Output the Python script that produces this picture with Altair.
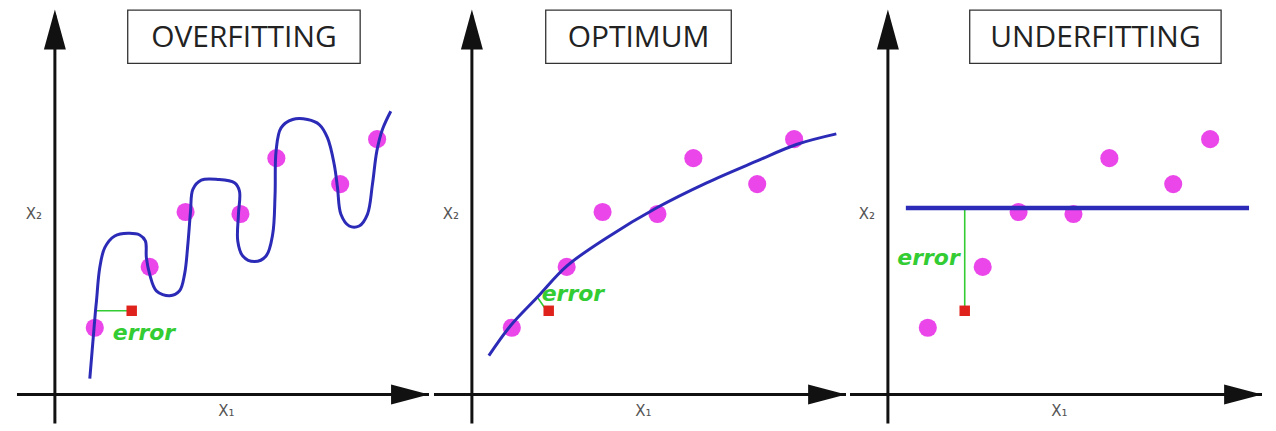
import altair as alt
import pandas as pd

# ---------------- data (units: position along X1 / X2 from the origin) ----------------
panel_titles = ["OVERFITTING", "OPTIMUM", "UNDERFITTING"]
axis_x1_label = "X₁"
axis_x2_label = "X₂"
error_label = "error"

# training samples (same in every panel)
sample_x1 = [40, 95, 131, 186, 222, 286, 323]
sample_x2 = [67, 128, 183, 181, 237, 211, 256]

# the highlighted new sample
new_x1 = [77]
new_x2 = [84]

# overfitting curve (traced)
over_x1 = [35, 39.3, 40.7, 41.7, 45, 50, 60, 73.3, 85, 90.7, 91.7, 95, 101.7, 115, 125,
           130, 133.3, 136, 138.3, 146.7, 163.3, 180, 185, 184, 183.3, 188.3, 200, 211.7,
           218.3, 220.7, 221.7, 226.7, 238.3, 253.3, 265, 273.3, 280, 283.3, 286.7, 295,
           305, 313.3, 318.3, 322.7, 328.3, 336.7]
over_x2 = [16, 67.3, 84, 94, 127.3, 147.3, 159, 161.7, 160, 154, 137.3, 120.7, 104, 99, 104,
           120.7, 150.7, 184, 205.7, 215, 215.7, 212.3, 204, 180.7, 154, 139, 133.3, 139,
           160.7, 200.7, 244, 267.3, 275.7, 275.7, 270.7, 257.3, 230.7, 207.3, 180.7, 169,
           169, 180.7, 210.7, 244, 265.7, 284]

# optimum curve (traced)
opt_x1 = [17, 38.7, 65.3, 95.3, 135.3, 185.3, 235.3, 285.3, 325.3, 365.3]
opt_x2 = [39, 69, 97.3, 129, 157.3, 187.3, 212.3, 234, 250.7, 261.3]

# underfitting line
under_x1 = [18, 362]
under_x2 = [187, 187]

# error segments (from the fit to the new sample)
err_over_x1, err_over_x2 = [40.7, 77], [84, 84]
err_opt_x1, err_opt_x2 = [66, 75], [97, 84]
err_under_x1, err_under_x2 = [77, 77], [187, 84]

# ---------------- layout ----------------
H = 415
Y_DOM = [-29, 386]
panels_geom = [
    dict(w=424, dom=[-47, 377], box=[73, 306], err=(58, 62, "left")),
    dict(w=416, dom=[-41, 375], box=[74, 260], err=(70, 101, "left")),
    dict(w=420, dom=[-39, 381], box=[82, 334], err=(72, 137, "right")),
]

AX = "#111111"
BLUE = "#2b2bb8"
MAGENTA = "#ea46ea"
GREEN = "#33cc33"
RED = "#e0221c"

ARROW_R = "M1,0L-1,-0.53L-1,0.53Z"
ARROW_U = "M0,-1L0.55,1L-0.55,1Z"


def enc(df, dom, x="x", y="y", **kw):
    return dict(
        x=alt.X(f"{x}:Q", scale=alt.Scale(domain=dom, nice=False, zero=False), axis=None),
        y=alt.Y(f"{y}:Q", scale=alt.Scale(domain=Y_DOM, nice=False, zero=False), axis=None),
        **kw,
    )


def make_panel(i, fit_x1, fit_x2, fit_width, err_x1, err_x2):
    g = panels_geom[i]
    dom = g["dom"]
    layers = []

    # axes (rules + arrow heads)
    xaxis = pd.DataFrame({"x": [-38], "x2": [375], "y": [0]})
    layers.append(alt.Chart(xaxis).mark_rule(color=AX, strokeWidth=3).encode(
        **enc(xaxis, dom), x2="x2:Q"))
    yaxis = pd.DataFrame({"x": [0], "y": [-29], "y2": [380]})
    layers.append(alt.Chart(yaxis).mark_rule(color=AX, strokeWidth=3).encode(
        **enc(yaxis, dom), y2="y2:Q"))
    xh = pd.DataFrame({"x": [356], "y": [0]})
    layers.append(alt.Chart(xh).mark_point(shape=ARROW_R, size=1444, filled=True,
                                           color=AX, opacity=1, strokeWidth=0).encode(**enc(xh, dom)))
    yh = pd.DataFrame({"x": [0], "y": [366]})
    layers.append(alt.Chart(yh).mark_point(shape=ARROW_U, size=1600, filled=True,
                                           color=AX, opacity=1, strokeWidth=0).encode(**enc(yh, dom)))

    # axis labels
    lx = pd.DataFrame({"x": [172], "y": [-16], "t": [axis_x1_label]})
    layers.append(alt.Chart(lx).mark_text(font="DejaVu Sans", fontSize=15, color="#555555").encode(
        **enc(lx, dom), text="t:N"))
    ly = pd.DataFrame({"x": [-21], "y": [181], "t": [axis_x2_label]})
    layers.append(alt.Chart(ly).mark_text(font="DejaVu Sans", fontSize=15, color="#555555").encode(
        **enc(ly, dom), text="t:N"))

    # title box
    bx = pd.DataFrame({"x": [g["box"][0]], "x2": [g["box"][1]], "y": [332], "y2": [385.4]})
    layers.append(alt.Chart(bx).mark_rect(fill="white", stroke="#333333", strokeWidth=1.3).encode(
        **enc(bx, dom), x2="x2:Q", y2="y2:Q"))
    bt = pd.DataFrame({"x": [(g["box"][0] + g["box"][1]) / 2], "y": [357], "t": [panel_titles[i]]})
    layers.append(alt.Chart(bt).mark_text(font="Open Sans", fontSize=30, color="#222222",
                                          baseline="middle").encode(**enc(bt, dom), text="t:N"))

    # samples
    pts = pd.DataFrame({"x": sample_x1, "y": sample_x2})
    layers.append(alt.Chart(pts).mark_circle(size=330, color=MAGENTA, opacity=1).encode(**enc(pts, dom)))

    # error segment
    ed = pd.DataFrame({"x": err_x1, "y": err_x2, "i": list(range(len(err_x1)))})
    layers.append(alt.Chart(ed).mark_line(color=GREEN, strokeWidth=1.6).encode(
        **enc(ed, dom), order="i:Q"))

    # fitted model
    fd = pd.DataFrame({"x": fit_x1, "y": fit_x2, "i": list(range(len(fit_x1)))})
    layers.append(alt.Chart(fd).mark_line(color=BLUE, strokeWidth=fit_width,
                                          interpolate="catmull-rom").encode(
        **enc(fd, dom), order="i:Q"))

    # new sample
    nd = pd.DataFrame({"x": new_x1, "y": new_x2})
    layers.append(alt.Chart(nd).mark_square(size=110, color=RED, opacity=1).encode(**enc(nd, dom)))

    # error label
    ex, ey, ea = g["err"]
    et = pd.DataFrame({"x": [ex], "y": [ey], "t": [error_label]})
    layers.append(alt.Chart(et).mark_text(font="DejaVu Sans", fontSize=22, fontWeight="bold",
                                          fontStyle="italic", color=GREEN, align=ea,
                                          baseline="middle").encode(**enc(et, dom), text="t:N"))

    return alt.layer(*layers).properties(width=g["w"], height=H)


p1 = make_panel(0, over_x1, over_x2, 3, err_over_x1, err_over_x2)
p2 = make_panel(1, opt_x1, opt_x2, 3, err_opt_x1, err_opt_x2)
p3 = make_panel(2, under_x1, under_x2, 4.5, err_under_x1, err_under_x2)

chart = alt.hconcat(p1, p2, p3, spacing=0).properties(padding=0).configure_view(stroke=None)

chart.save("out.html", embed_options={"renderer": "svg", "actions": False})
